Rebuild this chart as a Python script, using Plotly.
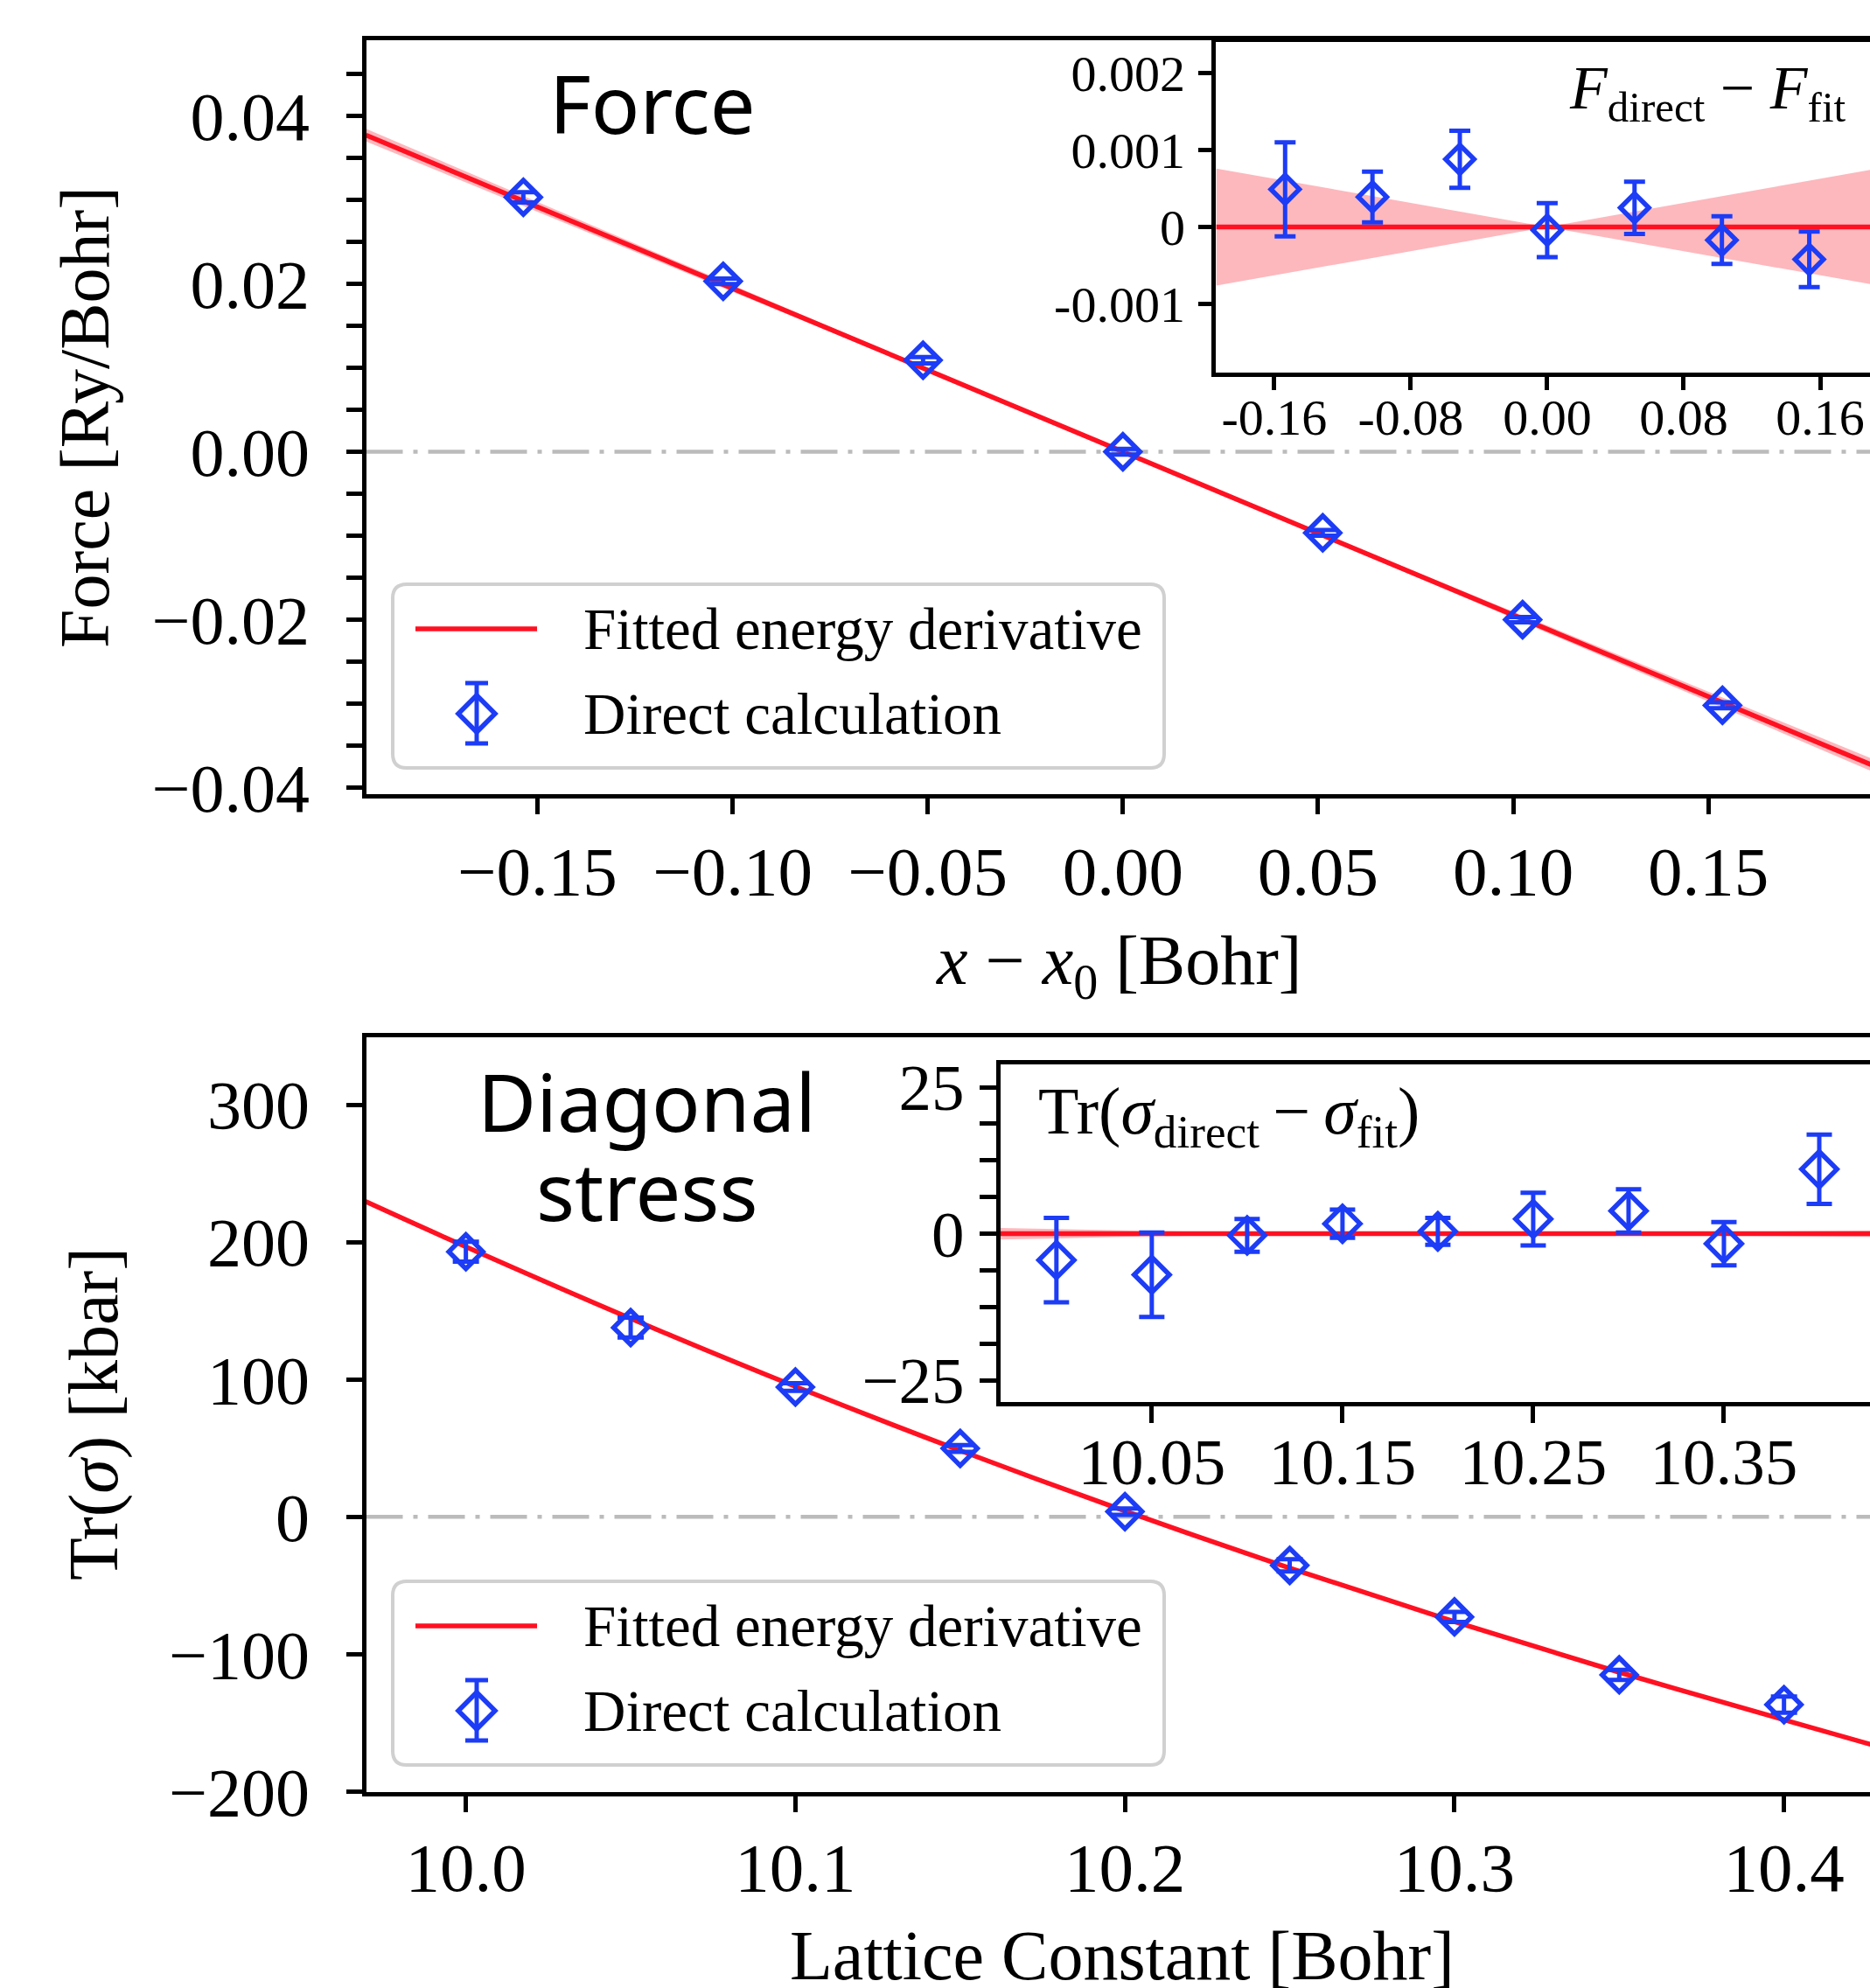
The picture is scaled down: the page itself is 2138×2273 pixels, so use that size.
import plotly.graph_objects as go

W, H = 2138, 2273

# ---------------- data ----------------
force_x = [-0.1536, -0.1024, -0.0512, 0.0, 0.0512, 0.1024, 0.1536]
force_direct = [0.0303, 0.0203, 0.0109, 0.0, -0.00966, -0.0200, -0.0302]
force_err = [0.00061, 0.00033, 0.00037, 0.00035, 0.00034, 0.00031, 0.00036]
force_resid = [0.00049, 0.00039, 0.00088, -0.00004, 0.00025, -0.00017, -0.00042]
force_fit_x = [-0.1939, 0.0, 0.1939]
force_fit = [0.0377, 0.0, -0.0377]
force_fit_band = [0.00076, 0.0, 0.00076]

lattice = [10.0, 10.05, 10.1, 10.15, 10.2, 10.25, 10.3, 10.35, 10.4]
stress_direct = [193.0, 137.8, 94.5, 49.8, 3.8, -35.3, -72.8, -115.0, -136.7]
stress_err = [7.2, 7.2, 2.8, 2.4, 2.3, 4.5, 3.7, 3.7, 5.9]
stress_resid = [-4.5, -7.0, -0.3, 1.7, 0.4, 2.5, 3.9, -1.7, 11.0]
stress_fit_x = [9.9696, 10.0, 10.05, 10.1, 10.15, 10.2, 10.25, 10.3, 10.35, 10.4, 10.4304]
stress_fit = [229.5, 196.6, 144.4, 94.9, 48.3, 4.3, -37.2, -76.3, -113.1, -147.7, -168.4]
stress_fit_band = [1.0, 0.8, 0.45, 0.25, 0.15, 0.12, 0.15, 0.2, 0.3, 0.45, 0.55]

inset1_yticks = [0.002, 0.001, 0.0, -0.001]
inset1_yticktext = ["0.002", "0.001", "0", "-0.001"]
inset1_xticks = [-0.16, -0.08, 0.0, 0.08, 0.16]
inset1_xticktext = ["-0.16", "-0.08", "0.00", "0.08", "0.16"]
inset2_yticks = [25, 0, -25]
inset2_yticktext = ["25", "0", "\u221225"]
inset2_xticks = [10.05, 10.15, 10.25, 10.35]
inset2_xticktext = ["10.05", "10.15", "10.25", "10.35"]

# ---------------- style ----------------
RED = "#ff1122"
BAND = "rgba(250,40,55,0.33)"
BLUE = "#1c3cf6"
GRAY = "#bbbbbb"
SERIF = "Liberation Serif"
SANS = "Noto Sans"
LW_FIT = 5.5
LW_MARK = 5.5
LW_ERR = 5


def px(x, y):
    return x / W, 1 - y / H


fig = go.Figure()


def add_panel(xs, fit_x, fit, band, data_y, err, xa, ya, msize, capw, spline=False):
    upper = [f + b for f, b in zip(fit, band)]
    lower = [f - b for f, b in zip(fit, band)]
    shape = "spline" if spline else "linear"
    fig.add_trace(go.Scatter(
        x=fit_x + fit_x[::-1], y=upper + lower[::-1], mode="lines",
        fill="toself", fillcolor=BAND, line=dict(width=0, shape=shape),
        xaxis=xa, yaxis=ya, showlegend=False, hoverinfo="skip"))
    fig.add_trace(go.Scatter(
        x=fit_x, y=fit, mode="lines", line=dict(color=RED, width=LW_FIT, shape=shape),
        xaxis=xa, yaxis=ya, showlegend=False))
    fig.add_trace(go.Scatter(
        x=xs, y=data_y, mode="markers",
        marker=dict(symbol="diamond-open", size=msize, color=BLUE, line=dict(width=LW_MARK, color=BLUE)),
        error_y=dict(type="data", array=err, visible=True, color=BLUE, thickness=LW_ERR, width=capw),
        xaxis=xa, yaxis=ya, showlegend=False))


# main force panel
add_panel(force_x, force_fit_x, force_fit, force_fit_band, force_direct, force_err, "x", "y", 30, 15)
# main stress panel
add_panel(lattice, stress_fit_x, stress_fit, stress_fit_band, stress_direct, stress_err, "x2", "y2", 30, 15, spline=True)
# inset force residuals
add_panel(force_x, force_fit_x, [f - f for f in force_fit], force_fit_band, force_resid, force_err,
          "x3", "y3", 25, 12)
# inset stress residuals
add_panel(lattice, stress_fit_x, [f - f for f in stress_fit], stress_fit_band, stress_resid, stress_err,
          "x4", "y4", 31, 14.5)


def axis(domain, rng, fsize, standoff, mirror=False, **kw):
    d = dict(domain=domain, range=rng, showline=True, linecolor="black", linewidth=5,
             ticks="outside", ticklen=18, tickwidth=5, tickcolor="black",
             showgrid=False, zeroline=False, mirror=mirror, automargin=False,
             tickfont=dict(family=SERIF, size=fsize, color="black"),
             ticklabelstandoff=standoff)
    d.update(kw)
    return d


xd_main = [418.5 / W, 1]
layout = dict(
    width=W, height=H, margin=dict(l=0, r=0, t=0, b=0),
    paper_bgcolor="white", plot_bgcolor="white", showlegend=False,
    xaxis=axis(xd_main, [-0.1939, 0.1914], 79, -2, mirror=True, anchor="y",
               tickmode="linear", tick0=0, dtick=0.05, tickformat=".2f"),
    yaxis=axis([1 - 907.5 / H, 1 - 46 / H], [-0.04073, 0.04901], 78, 26, anchor="x",
               tickmode="linear", tick0=0, dtick=0.02, tickformat=".2f",
               minor=dict(dtick=0.005, tick0=0, ticks="outside", ticklen=18, tickwidth=5,
                          tickcolor="black", showgrid=False)),
    xaxis2=axis(xd_main, [9.9697, 10.4261], 79, -4, mirror=True, anchor="y2",
                tickmode="linear", tick0=10.0, dtick=0.1, tickformat=".1f"),
    yaxis2=axis([1 - 2048.5 / H, 1 - 1185.5 / H], [-200, 349.4], 78, 26, anchor="x2",
                tickmode="linear", tick0=0, dtick=100),
    xaxis3=axis([1389.5 / W, 1], [-0.1945, 0.1892], 58, -18, mirror=True, anchor="y3",
                tickmode="array", tickvals=inset1_xticks, ticktext=inset1_xticktext, ticklen=15),
    yaxis3=axis([1 - 425.5 / H, 1 - 47.5 / H], [-0.001885, 0.002409], 58, 3, anchor="x3",
                tickmode="array", tickvals=inset1_yticks, ticktext=inset1_yticktext, ticklen=15),
    xaxis4=axis([1143.5 / W, 1], [9.9705, 10.4266], 75, -20, mirror=True, anchor="y4",
                tickmode="array", tickvals=inset2_xticks, ticktext=inset2_xticktext, ticklen=19),
    yaxis4=axis([1 - 1602.5 / H, 1 - 1216.5 / H], [-28.64, 28.96], 75, 2, anchor="x4",
                tickmode="array", tickvals=inset2_yticks, ticktext=inset2_yticktext, ticklen=19,
                minor=dict(dtick=6.25, tick0=0, ticks="outside", ticklen=19, tickwidth=5,
                           tickcolor="black", showgrid=False)),
)
fig.update_layout(**layout)

shapes = []
# zero reference lines
for xr, yr in (("x domain", "y"), ("x2 domain", "y2")):
    shapes.append(dict(type="line", xref=xr, yref=yr, x0=0, x1=1, y0=0, y1=0, layer="below",
                       line=dict(color=GRAY, width=4.5, dash="42px,12px,5px,12px")))


def rounded_box(x0, y0, x1, y1, r):
    def P(x, y):
        a, b = px(x, y)
        return f"{a:.6f},{b:.6f}"
    return (f"M {P(x0 + r, y0)} L {P(x1 - r, y0)} Q {P(x1, y0)} {P(x1, y0 + r)} "
            f"L {P(x1, y1 - r)} Q {P(x1, y1)} {P(x1 - r, y1)} "
            f"L {P(x0 + r, y1)} Q {P(x0, y1)} {P(x0, y1 - r)} "
            f"L {P(x0, y0 + r)} Q {P(x0, y0)} {P(x0 + r, y0)} Z")


annotations = []
legend_labels = ["Fitted energy derivative", "Direct calculation"]
for dy in (0, 1140):
    shapes.append(dict(type="path", xref="paper", yref="paper",
                       path=rounded_box(449, 668 + dy, 1331, 878 + dy, 16),
                       fillcolor="white", line=dict(color="#d0d0d0", width=4)))
    ax0, ay0 = px(475, 719 + dy)
    ax1, _ = px(614, 719 + dy)
    shapes.append(dict(type="line", xref="paper", yref="paper", x0=ax0, x1=ax1, y0=ay0, y1=ay0,
                       line=dict(color=RED, width=LW_FIT)))
    cx, cy, hr = 545, 816 + dy, 21
    pts = [px(cx, cy - hr), px(cx + hr, cy), px(cx, cy + hr), px(cx - hr, cy)]
    shapes.append(dict(type="path", xref="paper", yref="paper",
                       path="M " + " L ".join(f"{a:.6f},{b:.6f}" for a, b in pts) + " Z",
                       line=dict(color=BLUE, width=LW_MARK)))
    e0, e1 = px(cx, cy - 35), px(cx, cy + 34)
    shapes.append(dict(type="line", xref="paper", yref="paper", x0=e0[0], x1=e1[0], y0=e0[1], y1=e1[1],
                       line=dict(color=BLUE, width=LW_ERR)))
    for ey in (cy - 35, cy + 34):
        c0, c1 = px(cx - 13, ey), px(cx + 13, ey)
        shapes.append(dict(type="line", xref="paper", yref="paper", x0=c0[0], x1=c1[0], y0=c0[1], y1=c1[1],
                           line=dict(color=BLUE, width=LW_ERR)))
    for lab, ly in zip(legend_labels, (719 + dy, 816 + dy)):
        lx, lyp = px(665, ly)
        annotations.append(dict(text=lab, x=lx, y=lyp, xref="paper", yref="paper",
                                xanchor="left", yanchor="middle", showarrow=False,
                                font=dict(family=SERIF, size=67, color="black")))


def ann(text, x, y, size, family=SERIF, xanchor="center", angle=0):
    a, b = px(x, y)
    annotations.append(dict(text=text, x=a, y=b, xref="paper", yref="paper", xanchor=xanchor,
                            yanchor="middle", showarrow=False, textangle=angle,
                            font=dict(family=family, size=size, color="black")))


ann("Force", 626, 118, 92, SANS, "left")
ann("Diagonal", 739, 1258, 92, SANS)
ann("stress", 739, 1360, 92, SANS)
ann("<i>F</i><sub>direct</sub> \u2212 <i>F</i><sub>fit</sub>", 2112, 106, 70, xanchor="right")
ann("Tr(<i>\u03c3</i><sub>direct</sub>\u2009\u2212\u2009<i>\u03c3</i><sub>fit</sub>)", 1185, 1276, 76, xanchor="left")
ann("Force [Ry/Bohr]", 97, 477, 80, angle=-90)
ann("Tr(<i>\u03c3</i>) [kbar]", 107, 1617, 80, angle=-90)
ann("<i>x</i> \u2212 <i>x</i><sub>0</sub> [Bohr]", 1279, 1104, 80)
ann("Lattice Constant [Bohr]", 1283, 2236, 80)

fig.update_layout(shapes=shapes, annotations=annotations)

fig.write_html("out.html", config={"displayModeBar": False},
               post_script="document.body.style.margin='0';document.body.style.overflow='hidden';")
